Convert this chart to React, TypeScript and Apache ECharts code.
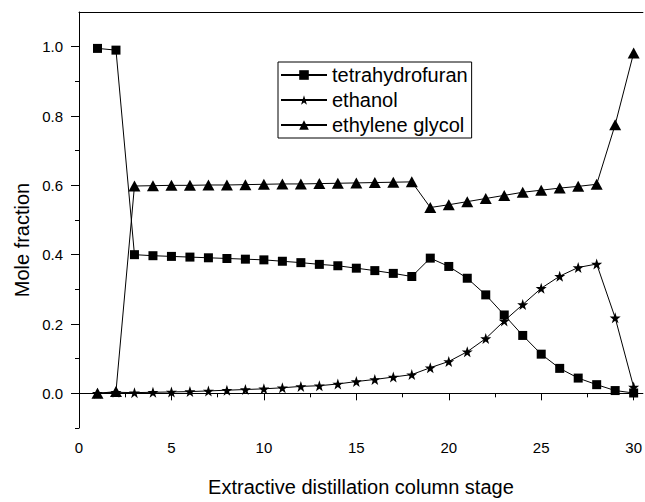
import React, { useEffect, useRef } from "react";
import * as echarts from "echarts";

const stages = [1, 2, 3, 4, 5, 6, 7, 8, 9, 10, 11, 12, 13, 14, 15, 16, 17, 18, 19, 20, 21, 22, 23, 24, 25, 26, 27, 28, 29, 30];
const thf = [0.995, 0.99, 0.4, 0.397, 0.395, 0.393, 0.391, 0.389, 0.387, 0.385, 0.381, 0.377, 0.372, 0.368, 0.361, 0.354, 0.346, 0.337, 0.39, 0.366, 0.332, 0.284, 0.226, 0.167, 0.113, 0.072, 0.044, 0.025, 0.008, 0.001];
const ethanol = [0.0, 0.003, 0.002, 0.003, 0.004, 0.005, 0.007, 0.009, 0.011, 0.013, 0.016, 0.02, 0.022, 0.027, 0.034, 0.04, 0.047, 0.054, 0.074, 0.092, 0.12, 0.158, 0.209, 0.256, 0.303, 0.338, 0.363, 0.373, 0.218, 0.018];
const glycol = [0.0, 0.005, 0.598, 0.599, 0.6, 0.6, 0.601, 0.601, 0.602, 0.603, 0.604, 0.604, 0.605, 0.606, 0.607, 0.608, 0.609, 0.61, 0.536, 0.544, 0.553, 0.562, 0.571, 0.58, 0.586, 0.592, 0.597, 0.603, 0.775, 0.982];
const seriesNames = ["tetrahydrofuran", "ethanol", "ethylene glycol"];
const xMajorTicks = [0, 5, 10, 15, 20, 25, 30];
const xMinorTicks = [2.5, 7.5, 12.5, 17.5, 22.5, 27.5];
const yMajorTicks = [0, 0.2, 0.4, 0.6, 0.8, 1.0];
const yMinorTicks = [-0.1, 0.1, 0.3, 0.5, 0.7, 0.9];

const FONT = "'Liberation Sans', Arial, Helvetica, sans-serif";
const STAR = "path://M50,0 L61.8,35.1 L98.1,35.1 L68.8,56.7 L79.4,90.5 L50,69.7 L20.6,90.5 L31.2,56.7 L1.9,35.1 L38.2,35.1 Z";

export default function App() {
  const ref = useRef<HTMLDivElement>(null);
  useEffect(() => {
    if (!ref.current) return;
    const chart = echarts.init(ref.current, undefined, { renderer: "svg" });
    const black = "#000";
    const xBase = { type: "value", min: 0, max: 30.5, splitLine: { show: false } };
    const yBase = { type: "value", min: -0.1, max: 1.1, splitLine: { show: false } };
    const mk = (vals: number[]) => stages.map((s, i) => [s, vals[i]]);
    const lineStyle = { color: black, width: 1 };
    chart.setOption({
      animation: false,
      backgroundColor: "#fff",
      textStyle: { fontFamily: FONT, color: black },
      grid: { left: 79, top: 12, right: 0, bottom: 61.3, containLabel: false },
      xAxis: [
        {
          ...xBase,
          position: "bottom",
          axisLine: { show: true, lineStyle: { color: black, width: 1 } },
          axisTick: { show: true, customValues: xMajorTicks, length: 7, lineStyle: { color: black, width: 1 } },
          axisLabel: { customValues: xMajorTicks, color: black, fontSize: 15, fontFamily: FONT, margin: 12, formatter: (v: number) => String(v) },
          name: "Extractive distillation column stage",
          nameLocation: "middle",
          nameGap: 49,
          nameTextStyle: { fontSize: 20, color: black, fontFamily: FONT },
        },
        {
          ...xBase,
          position: "bottom",
          axisLine: { show: false },
          axisTick: { show: true, customValues: xMinorTicks, length: 4, lineStyle: { color: black, width: 1 } },
          axisLabel: { show: false },
        },
        {
          ...xBase,
          position: "top",
          axisLine: { show: true, lineStyle: { color: black, width: 1 } },
          axisTick: { show: false },
          axisLabel: { show: false },
        },
      ],
      yAxis: [
        {
          ...yBase,
          position: "left",
          axisLine: { show: true, lineStyle: { color: black, width: 1 } },
          axisTick: { show: true, customValues: yMajorTicks, length: 8, lineStyle: { color: black, width: 1 } },
          axisLabel: { customValues: yMajorTicks, color: black, fontSize: 15, fontFamily: FONT, margin: 16, formatter: (v: number) => v.toFixed(1) },
        },
        {
          ...yBase,
          position: "left",
          axisLine: { show: false },
          axisTick: { show: true, customValues: yMinorTicks, length: 4, lineStyle: { color: black, width: 1 } },
          axisLabel: { show: false },
        },
      ],
      legend: {
        orient: "vertical",
        left: 278,
        top: 62,
        padding: [3, 4, 3, 2],
        itemGap: 5,
        itemWidth: 46,
        itemHeight: 12,
        borderColor: black,
        borderWidth: 1,
        selectedMode: false,
        textStyle: { fontSize: 20, color: black, fontFamily: FONT },
        data: seriesNames,
      },
      graphic: [
        {
          type: "text",
          x: 22,
          y: 240,
          rotation: Math.PI / 2,
          style: { text: "Mole fraction", fontSize: 20, fontFamily: FONT, fill: black, align: "center", verticalAlign: "middle" },
        },
      ],
      series: [
        {
          name: seriesNames[0],
          type: "line",
          data: mk(thf),
          symbol: "rect",
          symbolSize: 9,
          itemStyle: { color: black },
          lineStyle,
        },
        {
          name: seriesNames[1],
          type: "line",
          data: mk(ethanol),
          symbol: STAR,
          symbolSize: 11,
          itemStyle: { color: black },
          lineStyle,
        },
        {
          name: seriesNames[2],
          type: "line",
          data: mk(glycol),
          symbol: "triangle",
          symbolSize: [12, 11],
          itemStyle: { color: black },
          lineStyle,
        },
      ],
    });
    return () => chart.dispose();
  }, []);
  return <div ref={ref} style={{ position: "fixed", left: 0, top: 0, width: 645, height: 502 }} />;
}
